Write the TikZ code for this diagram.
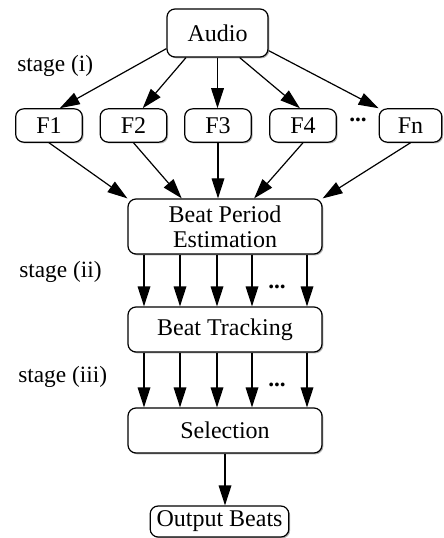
\documentclass[tikz,border=0pt]{standalone}
\usepackage{fontspec}
\setmainfont{Liberation Serif}
\usetikzlibrary{arrows.meta,shadows}

\begin{document}
\begin{tikzpicture}[x=0.75pt,y=0.75pt,yscale=-1,
  box/.style={draw,line width=0.9pt,rounded corners=6pt,fill=white,
    drop shadow={shadow xshift=1pt,shadow yshift=-1pt,fill=gray!60,opacity=1},
    inner sep=0pt,align=center,font=\fontsize{18}{19}\selectfont},
  arr/.style={line width=0.9pt,-{Triangle[length=15pt,width=9.5pt]}},
  lbl/.style={inner sep=0pt,font=\fontsize{17.5}{19}\selectfont}]
%set diagram left start at 0, and has height of 538
\useasboundingbox (0,0) rectangle (443,538);

% Boxes
\node [box,minimum width=75.75pt,minimum height=36pt] (audio) at (217.5,33) {Audio};
\node [box,minimum width=50pt,minimum height=25pt] (f1) at (49,125.5) {F1};
\node [box,minimum width=50pt,minimum height=25pt] (f2) at (133.5,125.5) {F2};
\node [box,minimum width=50pt,minimum height=25pt] (f3) at (218,125.5) {F3};
\node [box,minimum width=50pt,minimum height=25pt] (f4) at (303,125.5) {F4};
\node [box,minimum width=47pt,minimum height=25pt] (fn) at (410.5,125.5) {Fn};
\node [box,minimum width=145.5pt,minimum height=41.25pt] (bpe) at (225,226.5) {Beat Period\\Estimation};
\node [box,minimum width=145.5pt,minimum height=33.75pt] (bt) at (225,329.5) {Beat Tracking};
\node [box,minimum width=145.5pt,minimum height=33.75pt] (sel) at (225,430.5) {Selection};
\node [box,minimum width=104pt,minimum height=23.25pt] (out) at (219.5,521.5) {Output Beats};

% Text Node
\node [lbl,anchor=west] (stagei) at (17,66) {stage (i)};
% Text Node
\node [lbl,anchor=west] (stageii) at (19,272) {stage (ii)};
% Text Node
\node [lbl,anchor=west] (stageiii) at (18,377) {stage (iii)};
% Text Node
\node [lbl] (dotsf) at (358,120) {\textbf{...}};
\node [lbl] (dotsbpe) at (277,287) {\textbf{...}};
\node [lbl] (dotsbt) at (277,385) {\textbf{...}};

%Straight Lines, stage (i)
\draw [arr] (audio.197) -- (f1.58);
\draw [arr] (audio.218) -- (f2.62);
\draw [arr] (audio.south) -- (audio.south |- f3.north);
\draw [arr] (audio.312) -- (f4.100);
\draw [arr] (audio.341) -- (fn.north west);

\draw [arr] (f1.south) -- (bpe.north west);
\draw [arr] (f2.south) -- (bpe.147);
\draw [arr] (f3.south) -- (f3.south |- bpe.north);
\draw [arr] (f4.south) -- (bpe.44);
\draw [arr] (fn.south) -- (bpe.north east);

%Straight Lines, stage (ii) and (iii)
\foreach \x in {144,180,217,252,307} {
  \draw [arr] (\x,0 |- bpe.south) -- (\x,0 |- bt.north);
  \draw [arr] (\x,0 |- bt.south) -- (\x,0 |- sel.north);
}
\draw [arr] (sel.south) -- (sel.south |- out.north);

\end{tikzpicture}
\end{document}
